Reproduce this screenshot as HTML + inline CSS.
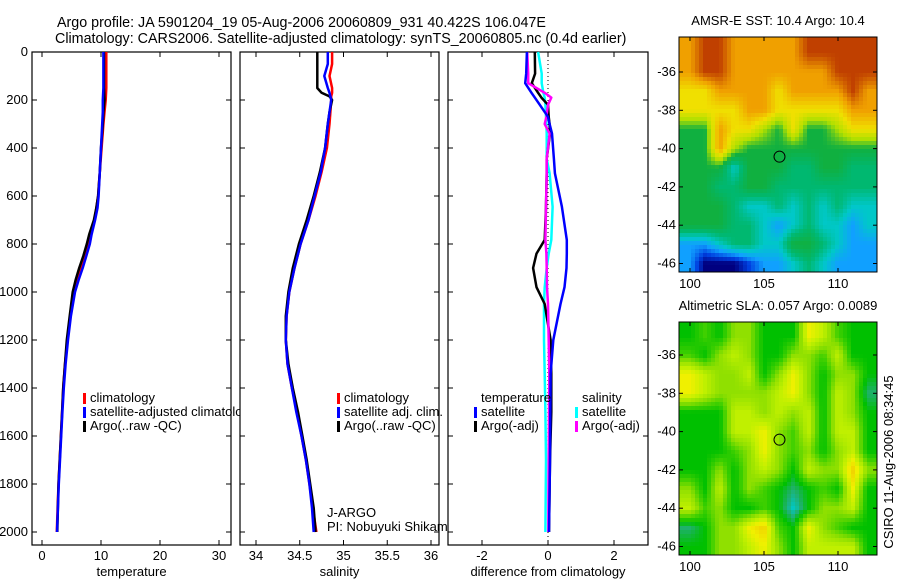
<!DOCTYPE html>
<html><head><meta charset="utf-8"><style>
html,body{margin:0;padding:0;background:#fff}
svg{display:block;font-family:"Liberation Sans",sans-serif}
text{font-size:13px;fill:#000}
</style></head><body>
<svg id="fig" width="900" height="580" viewBox="0 0 900 580">
<text x="57" y="27" style="font-size:14.3px">Argo profile: JA 5901204_19 05-Aug-2006 20060809_931 40.422S 106.047E</text>
<text x="55" y="43" style="font-size:14.3px">Climatology: CARS2006. Satellite-adjusted climatology: synTS_20060805.nc (0.4d earlier)</text>
<g id="p1"></g>
<g id="p2"></g>
<g id="p3"></g>
<g id="m1"></g>
<g id="m2"></g>
<text transform="translate(893,462) rotate(-90)" text-anchor="middle">CSIRO 11-Aug-2006 08:34:45</text>
</svg>
<script>
// ---- data ----
const depthT = [0,50,100,150,200,250,300,400,500,600,650,700,760,800,850,900,950,1000,1100,1200,1300,1400,1500,1600,1700,1800,1900,2000];
const argoT = [10.5,10.5,10.5,10.5,10.6,10.4,10.3,10.0,9.8,9.5,9.2,8.8,8.0,7.6,7.0,6.3,5.7,5.2,4.7,4.2,3.9,3.6,3.4,3.2,3.0,2.8,2.7,2.6];
const climT = [10.9,10.9,10.9,10.9,10.8,10.6,10.4,10.1,9.8,9.5,9.2,8.9,8.3,7.9,7.3,6.6,6.0,5.4,4.8,4.3,3.9,3.6,3.4,3.2,3.0,2.8,2.65,2.5];
const satT = [10.4,10.4,10.4,10.4,10.3,10.3,10.2,10.0,9.8,9.6,9.4,9.0,8.4,8.1,7.5,6.9,6.2,5.6,4.9,4.4,4.0,3.7,3.45,3.25,3.05,2.85,2.7,2.55];
const depthS = [0,50,100,150,170,185,200,250,300,400,500,600,700,800,900,1000,1100,1200,1300,1400,1500,1600,1700,1800,1900,2000];
const argoS = [34.70,34.70,34.70,34.70,34.75,34.84,34.87,34.84,34.82,34.79,34.73,34.66,34.58,34.49,34.42,34.37,34.34,34.34,34.37,34.42,34.48,34.53,34.58,34.62,34.66,34.68];
const climS = [34.87,34.87,34.84,34.87,34.87,34.86,34.86,34.85,34.84,34.81,34.75,34.68,34.60,34.51,34.44,34.38,34.35,34.34,34.36,34.41,34.47,34.52,34.57,34.61,34.65,34.69];
const satS = [34.82,34.82,34.78,34.82,34.84,34.85,34.86,34.84,34.82,34.79,34.74,34.67,34.60,34.51,34.44,34.38,34.35,34.34,34.36,34.41,34.46,34.52,34.57,34.61,34.64,34.66];
const depthD = [0,90,130,170,190,220,270,300,340,445,505,645,783,840,900,980,1050,1200,1340,1500,1700,2000];
const dTsat = [-0.64,-0.66,-0.69,-0.5,-0.4,-0.25,0,0.05,0.12,0.18,0.21,0.42,0.57,0.57,0.56,0.5,0.38,0.16,0.08,0.07,0.06,0.03];
const dTargo = [-0.4,-0.39,-0.49,-0.3,-0.2,0,0.02,0.05,0.06,-0.04,-0.04,-0.06,-0.1,-0.35,-0.45,-0.35,-0.1,0.08,0.1,0.1,0.06,0.03];
const dSsat = [-0.3,-0.19,-0.19,-0.14,-0.1,-0.08,-0.06,-0.05,-0.04,-0.04,0.05,0.14,0.1,0.02,-0.04,-0.1,-0.12,-0.12,-0.1,-0.08,-0.06,-0.08];
const dSargo = [-0.63,-0.6,-0.6,-0.1,0.1,0,-0.05,-0.1,0.05,-0.04,-0.04,-0.06,-0.08,-0.05,-0.04,-0.03,0,0.02,0.04,0.03,0.02,0.01];
const depthTicks = [0,200,400,600,800,1000,1200,1400,1600,1800,2000];
const tTicks = [0,10,20,30];
const sTicks = [34,34.5,35,35.5,36];
const dTicks = [-2,0,2];
const sstTitle = "AMSR-E SST: 10.4  Argo: 10.4";
const slaTitle = "Altimetric SLA: 0.057  Argo: 0.0089";
const mapLons = [100,101,102,103,104,105,106,107,108,109,110,111,112];
const mapLats = [-35,-36,-37,-38,-39,-40,-41,-42,-43,-44,-45,-46];
const sstGrid = ["8998888899999","8998888888999","7788887888898","7777887777788","5587765755677","5586555555555","5553555445544","5544554444444","5554334343433","5554432343323","2234433554322","2000122343222"];
const slaGrid = ["2324422265322","3245422443522","6544524642442","6544445642541","2225545452542","2225564352552","2223464342452","2242454254474","4252432123262","5342232024452","1244673264322","2244564255552"];
const lonTicks = [100,105,110];
const latTicks = [-36,-38,-40,-42,-44,-46];
const floatLon = 106.047, floatLat = -40.422;

const NS = "http://www.w3.org/2000/svg";
function mk(parent, tag, attrs){const e=document.createElementNS(NS,tag);for(const k in attrs)e.setAttribute(k,attrs[k]);parent.appendChild(e);return e;}
const top0=52, pxPerM=0.24, yBot=545;
const yD = d => top0 + d*pxPerM;

function panel(g, x0, x1, xScale, ticks, xlabel, yLabels){
  const r=mk(g,'rect',{x:x0,y:top0,width:x1-x0,height:yBot-top0,fill:'#fff',stroke:'#000','stroke-width':1.2});
  
  
  depthTicks.forEach(d=>{
    mk(g,'line',{x1:x0,x2:x0+5,y1:yD(d),y2:yD(d),stroke:'#000'});
    mk(g,'line',{x1:x1,x2:x1-5,y1:yD(d),y2:yD(d),stroke:'#000'});
    if(yLabels){const t=mk(g,'text',{x:x0-4,y:yD(d)+4,'text-anchor':'end'});t.textContent=d;
      
      }
  });
  ticks.forEach(v=>{
    const x=xScale(v);
    mk(g,'line',{x1:x,x2:x,y1:top0,y2:top0+5,stroke:'#000'});
    mk(g,'line',{x1:x,x2:x,y1:yBot,y2:yBot-5,stroke:'#000'});
    const t=mk(g,'text',{x:x,y:yBot+15,'text-anchor':'middle'});t.textContent=v;
    
    
  });
  const l=mk(g,'text',{x:(x0+x1)/2,y:yBot+31,'text-anchor':'middle'});l.textContent=xlabel;
  
  
}
function line(g, depths, vals, xScale, color, name){
  let d='';
  vals.forEach((v,i)=>{d+=(i?'L':'M')+xScale(v).toFixed(1)+','+yD(depths[i]).toFixed(1);});
  const p=mk(g,'path',{d:d,fill:'none',stroke:color,'stroke-width':2.5,'stroke-linejoin':'round'});
  
  
}
function legend(g, x, y, color, label){
  if(color) mk(g,'rect',{x:x,y:y-9,width:3,height:11,fill:color});
  const t=mk(g,'text',{x:x+7,y:y});t.textContent=label;
  
  
}

// panel 1
const p1=document.getElementById('p1');
const xT = v => 42 + v*5.9;
panel(p1,32,231,xT,tTicks,'temperature',true);
line(p1,depthT,climT,xT,'#f00','climatology-temp-line');
line(p1,depthT,argoT,xT,'#000','argo-temp-line');
line(p1,depthT,satT,xT,'#00f','satellite-temp-line');
legend(p1,83,402,'#f00','climatology');
legend(p1,83,416,'#00f','satellite-adjusted climatology');
legend(p1,83,430,'#000','Argo(..raw -QC)');

// panel 2
const p2=document.getElementById('p2');
const xS = v => 256 + (v-34)*87.5;
panel(p2,240,439,xS,sTicks,'salinity',false);
line(p2,depthS,climS,xS,'#f00','climatology-sal-line');
line(p2,depthS,argoS,xS,'#000','argo-sal-line');
line(p2,depthS,satS,xS,'#00f','satellite-sal-line');
legend(p2,337,402,'#f00','climatology');
legend(p2,337,416,'#00f','satellite adj. clim.');
legend(p2,337,430,'#000','Argo(..raw -QC)');
legend(p2,320,517,null,'J-ARGO');
legend(p2,320,531,null,'PI: Nobuyuki Shikama');

// panel 3
const p3=document.getElementById('p3');
const xDf = v => 548 + v*33;
panel(p3,448,648,xDf,dTicks,'difference from climatology',false);
mk(p3,'line',{x1:xDf(0),x2:xDf(0),y1:top0,y2:yBot,stroke:'#000','stroke-dasharray':'1,3'});
line(p3,depthD,dSsat,xDf,'#0ff','sal-satellite-diff-line');
line(p3,depthD,dTargo,xDf,'#000','temp-argo-diff-line');
line(p3,depthD,dSargo,xDf,'#f0f','sal-argo-diff-line');
line(p3,depthD,dTsat,xDf,'#00f','temp-satellite-diff-line');
legend(p3,474,402,null,'temperature');
legend(p3,474,416,'#00f','satellite');
legend(p3,474,430,'#000','Argo(-adj)');
legend(p3,575,402,null,'salinity');
legend(p3,575,416,'#0ff','satellite');
legend(p3,575,430,'#f0f','Argo(-adj)');

// maps
const sstPal=[[0,0,128],[0,64,224],[16,160,255],[0,200,200],[0,184,112],[16,176,64],[176,224,0],[240,224,0],[240,160,0],[192,64,0]];
const slaPal=[[0,200,200],[32,176,112],[0,192,0],[64,208,0],[144,224,0],[192,240,0],[240,240,0],[240,208,0]];
function palColor(pal,v){
  v=Math.max(0,Math.min(pal.length-1,v));
  const i=Math.min(pal.length-2,Math.floor(v)), f=v-i;
  const c=pal[i].map((a,k)=>Math.round(a+(pal[i+1][k]-a)*f));
  return 'rgb('+c.join(',')+')';
}
function sample(grid,fi,fj){
  const R=grid.length, C=grid[0].length;
  fi=Math.max(0,Math.min(R-1,fi)); fj=Math.max(0,Math.min(C-1,fj));
  const i0=Math.min(R-2,Math.floor(fi)), j0=Math.min(C-2,Math.floor(fj));
  const a=fi-i0, b=fj-j0;
  const g=(i,j)=>+grid[i][j];
  return g(i0,j0)*(1-a)*(1-b)+g(i0,j0+1)*(1-a)*b+g(i0+1,j0)*a*(1-b)+g(i0+1,j0+1)*a*b;
}
function map(g, top, bot, grid, pal, title, latY36){
  const x0=679,x1=877,ppLon=14.8,ppLat=19.15;
  const xL = lon => 690 + (lon-100)*ppLon;
  const yL = lat => latY36 + (-36-lat)*ppLat;
  const t=mk(g,'text',{x:778,y:top-12,'text-anchor':'middle'});t.textContent=title;
  
  
  const cg=mk(g,'g',{});
  const step=4;
  for(let y=top;y<bot;y+=step){
    for(let x=x0;x<x1;x+=step){
      const lon=100+(x+step/2-690)/ppLon, lat=-36-(y+step/2-latY36)/ppLat;
      const fj=lon-mapLons[0], fi=mapLats[0]-lat;
      const v=sample(grid,fi,fj);
      const c=mk(cg,'rect',{x:x,y:y,width:Math.min(step,x1-x)+0.3,height:Math.min(step,bot-y)+0.3,fill:palColor(pal,v)});
      
      
    }
  }
  mk(g,'rect',{x:x0,y:top,width:x1-x0,height:bot-top,fill:'none',stroke:'#000'});
  latTicks.forEach(la=>{
    const y=yL(la);
    mk(g,'line',{x1:x0,x2:x0+4,y1:y,y2:y,stroke:'#000'});
    mk(g,'line',{x1:x1,x2:x1-4,y1:y,y2:y,stroke:'#000'});
    const tt=mk(g,'text',{x:x0-3,y:y+4,'text-anchor':'end'});tt.textContent=la;
    
    
  });
  lonTicks.forEach(lo=>{
    const x=xL(lo);
    mk(g,'line',{x1:x,x2:x,y1:top,y2:top+4,stroke:'#000'});
    mk(g,'line',{x1:x,x2:x,y1:bot,y2:bot-4,stroke:'#000'});
    const tt=mk(g,'text',{x:x,y:bot+16,'text-anchor':'middle'});tt.textContent=lo;
    
    
  });
  const c=mk(g,'circle',{cx:xL(floatLon),cy:yL(floatLat),r:5.5,fill:'none',stroke:'#000'});
  
  
}
map(document.getElementById('m1'),37,272,sstGrid,sstPal,sstTitle,72);
map(document.getElementById('m2'),322,555,slaGrid,slaPal,slaTitle,355);
</script>
</body></html>
